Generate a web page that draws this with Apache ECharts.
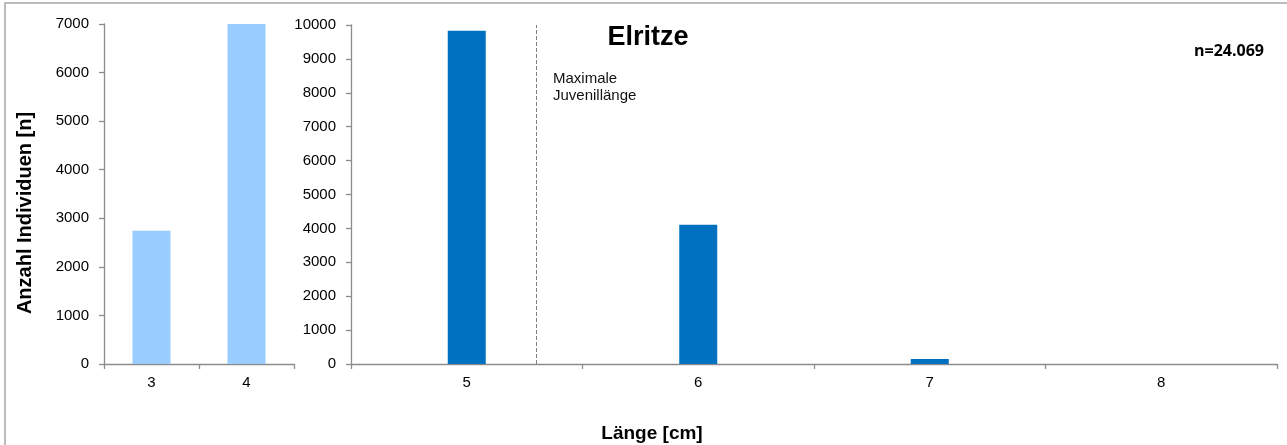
<!DOCTYPE html>
<html>
<head>
<meta charset="utf-8">
<script src="https://cdn.jsdelivr.net/npm/echarts@6/dist/echarts.min.js"></script>
<style>
  html, body { margin: 0; padding: 0; background: #fff; }
  #chart { width: 1287px; height: 445px; }
</style>
</head>
<body>
<div id="chart"></div>
<script>
// ---- data ----
var juvenileCategories = ['3', '4'];
var juvenileValues = [2745, 7000];
var adultCategories = ['5', '6', '7', '8'];
var adultValues = [9830, 4105, 150, 0];
var maxJuvenileLength = 5.3; // cm, position of dashed marker
var leftTicks = { max: 7000, interval: 1000 };
var rightTicks = { max: 10000, interval: 1000 };
var titleText = 'Elritze';
var nText = 'n=24.069';
var markerText = 'Maximale\nJuvenillänge';
var yName = 'Anzahl Individuen [n]';
var xName = 'Länge [cm]';

var FONT = "'Liberation Sans', Arial, sans-serif";
var axisGray = '#8c8c8c';

var chart = echarts.init(document.getElementById('chart'), null, { renderer: 'canvas' });

function catAxis(gridIndex, data) {
  return {
    type: 'category', gridIndex: gridIndex, data: data,
    axisLine: { lineStyle: { color: axisGray, width: 1.3 } },
    axisTick: { show: true, length: 5, lineStyle: { color: axisGray, width: 1.3 } },
    axisLabel: { color: '#000', fontSize: 15, fontFamily: FONT, margin: 11 },
    splitLine: { show: false }
  };
}
function valAxis(gridIndex, t) {
  return {
    type: 'value', gridIndex: gridIndex, min: 0, max: t.max, interval: t.interval,
    axisLine: { show: true, lineStyle: { color: axisGray, width: 1.3 } },
    axisTick: { show: true, length: 5, lineStyle: { color: axisGray, width: 1.3 } },
    axisLabel: { color: '#000', fontSize: 15, fontFamily: FONT, margin: 15,
      formatter: function (v) { return String(v); } },
    splitLine: { show: false }
  };
}

var option = {
  animation: false,
  backgroundColor: '#fff',
  textStyle: { fontFamily: FONT },
  title: [
    { text: titleText, left: 643, top: 19, textAlign: 'center',
      textStyle: { fontSize: 27, fontWeight: 'bold', color: '#000', fontFamily: FONT } },
    { text: nText, right: 18, top: 38,
      textStyle: { fontSize: 16, fontWeight: 'bold', color: '#000', fontFamily: "'Open Sans', 'Liberation Sans', sans-serif" } },
    { text: xName, left: 647, top: 419, textAlign: 'center',
      textStyle: { fontSize: 19, fontWeight: 'bold', color: '#000', fontFamily: FONT } }
  ],
  graphic: [
    { type: 'rect', shape: { x: 5, y: 3, width: 1320, height: 520 },
      style: { fill: 'none', stroke: '#a6a6a6', lineWidth: 1.5 }, silent: true },
    { type: 'text', left: 553, top: 70,
      style: { text: markerText, fontSize: 15, lineHeight: 17, fill: '#111', fontFamily: FONT } },
    { type: 'text', x: 25, y: 213, rotation: Math.PI / 2,
      style: { text: yName, fontSize: 20, fontWeight: 'bold', fill: '#000', fontFamily: FONT,
        align: 'center', verticalAlign: 'middle' } }
  ],
  grid: [
    { left: 104, right: 993, top: 24, bottom: 81 },
    { left: 351, right: 10, top: 25, bottom: 81 }
  ],
  xAxis: [
    catAxis(0, juvenileCategories),
    catAxis(1, adultCategories),
    { type: 'value', gridIndex: 1, min: 4.5, max: 8.5, show: false }
  ],
  yAxis: [
    valAxis(0, leftTicks),
    valAxis(1, rightTicks)
  ],
  series: [
    { type: 'bar', xAxisIndex: 0, yAxisIndex: 0, data: juvenileValues, barWidth: 38,
      itemStyle: { color: '#99ccff' } },
    { type: 'bar', xAxisIndex: 1, yAxisIndex: 1, data: adultValues, barWidth: 38,
      itemStyle: { color: '#0070c0' } },
    { type: 'line', xAxisIndex: 2, yAxisIndex: 1, data: [[maxJuvenileLength, 0]],
      showSymbol: false, symbol: 'none', lineStyle: { opacity: 0 }, silent: true,
      markLine: {
        silent: true, symbol: ['none', 'none'],
        label: { show: false },
        lineStyle: { type: 'dashed', color: '#7f7f7f', width: 1 },
        data: [{ xAxis: maxJuvenileLength }]
      }
    }
  ]
};
chart.setOption(option);
</script>
</body>
</html>
